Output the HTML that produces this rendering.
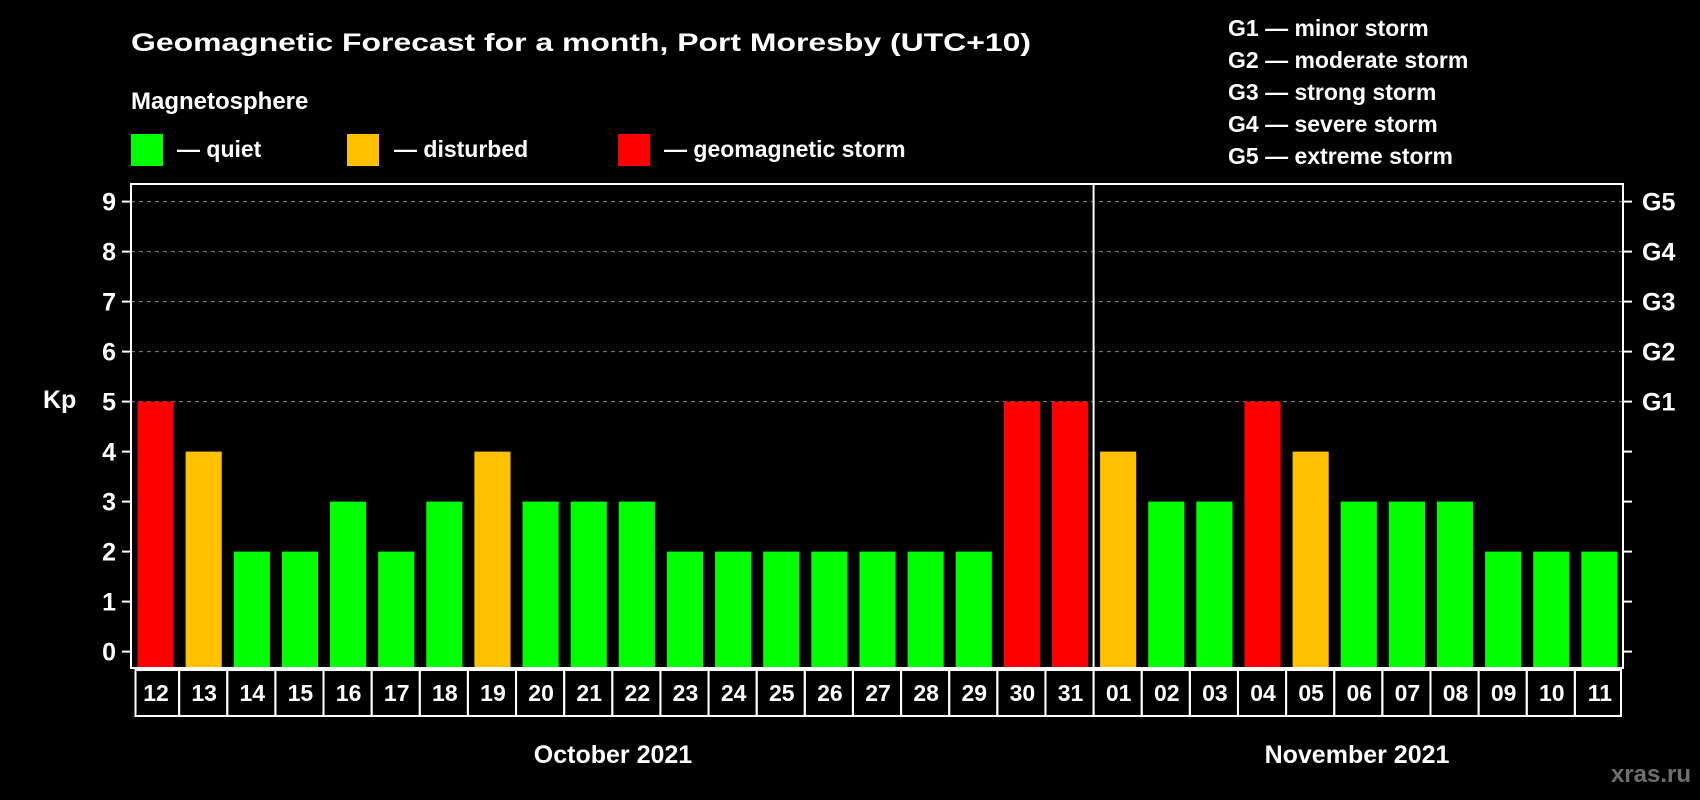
<!DOCTYPE html>
<html><head><meta charset="utf-8"><style>
html,body{margin:0;padding:0;background:#000;}
svg{display:block;font-family:"Liberation Sans",Arial,sans-serif;font-weight:bold;}
</style></head><body>
<svg id="chart" width="1700" height="800" viewBox="0 0 1700 800" xmlns="http://www.w3.org/2000/svg">
<rect width="1700" height="800" fill="#000"/>
<text x="131" y="51" font-size="25" fill="#fff" textLength="900" lengthAdjust="spacingAndGlyphs">Geomagnetic Forecast for a month, Port Moresby (UTC+10)</text>
<text x="131" y="109" font-size="24" fill="#fff">Magnetosphere</text>
<g><rect x="131" y="134" width="32" height="32" fill="#00ff00"/><text x="177" y="157" font-size="23" fill="#fff">— quiet</text></g>
<g><rect x="347" y="134" width="32" height="32" fill="#ffc000"/><text x="394" y="157" font-size="23" fill="#fff">— disturbed</text></g>
<g><rect x="618" y="134" width="32" height="32" fill="#ff0000"/><text x="664" y="157" font-size="23" fill="#fff">— geomagnetic storm</text></g>
<g font-size="23" fill="#fff">
<text x="1228" y="36">G1 — minor storm</text>
<text x="1228" y="68">G2 — moderate storm</text>
<text x="1228" y="100">G3 — strong storm</text>
<text x="1228" y="132">G4 — severe storm</text>
<text x="1228" y="164">G5 — extreme storm</text>
</g>
<text x="43" y="408" font-size="25" fill="#fff">Kp</text>
<text x="613" y="763" font-size="25" fill="#fff" text-anchor="middle">October 2021</text>
<text x="1357" y="763" font-size="25" fill="#fff" text-anchor="middle">November 2021</text>
<text x="1691" y="782" font-size="24" fill="#6e6e6e" text-anchor="end">xras.ru</text>
<g id="plot"></g>
</svg>
<script>
const days = ["12","13","14","15","16","17","18","19","20","21","22","23","24","25","26","27","28","29","30","31","01","02","03","04","05","06","07","08","09","10","11"];
const kpValues = [5,4,2,2,3,2,3,4,3,3,3,2,2,2,2,2,2,2,5,5,4,3,3,5,4,3,3,3,2,2,2];
const yTicks = [0,1,2,3,4,5,6,7,8,9];
const gLabels = ["G1","G2","G3","G4","G5"];
const gLevels = [5,6,7,8,9];
const monthBreakIndex = 20;

const L=131, R=1623, T=184, B=668;
const NS="http://www.w3.org/2000/svg";
const pitch=(R-L)/days.length;
function x(i){return L+i*pitch;}
function y(v){return 651.6-50*v;}
function color(v){return v>=5?"#ff0000":(v>=4?"#ffc000":"#00ff00");}
const g=document.getElementById('plot');
function mk(tag,attrs){const e=document.createElementNS(NS,tag);for(const k in attrs)e.setAttribute(k,attrs[k]);g.appendChild(e);return e;}

gLevels.forEach((v)=>{
  const e=mk('line',{x1:L,x2:R,y1:y(v),y2:y(v),stroke:'#888','stroke-width':1,'stroke-dasharray':'4,4'});
  
  
});
kpValues.forEach((v,i)=>{
  const e=mk('rect',{x:x(i)+6.5,y:y(v),width:pitch-12,height:B-y(v),fill:color(v)});
  
  
});
const fr=mk('rect',{x:L,y:T,width:R-L,height:B-T,fill:'none',stroke:'#fff','stroke-width':2});


const dv=mk('line',{x1:x(monthBreakIndex),x2:x(monthBreakIndex),y1:T,y2:B,stroke:'#fff','stroke-width':2});


yTicks.forEach((v)=>{
  const a=mk('line',{x1:L-9,x2:L,y1:y(v),y2:y(v),stroke:'#fff','stroke-width':2});
  
  
  const b=mk('line',{x1:R,x2:R+9,y1:y(v),y2:y(v),stroke:'#fff','stroke-width':2});
  
  
  const t=mk('text',{x:116,y:y(v)+9,'font-size':25,fill:'#fff','text-anchor':'end'});
  t.textContent=v;
  
  
});
gLabels.forEach((s,i)=>{
  const t=mk('text',{x:1642,y:y(gLevels[i])+9,'font-size':25,fill:'#fff'});
  t.textContent=s;
  
  
});
days.forEach((d,i)=>{
  const bx=mk('rect',{x:x(i)+(i==0?4.5:0),y:670,width:pitch-(i==0?4.5:0)-(i==days.length-1?2:0),height:46,fill:'none',stroke:'#fff','stroke-width':2});
  
  
  const t=mk('text',{x:x(i)+pitch/2+1,y:701,'font-size':23,fill:'#fff','text-anchor':'middle'});
  t.textContent=d;
  
  
});
</script>
</body></html>
